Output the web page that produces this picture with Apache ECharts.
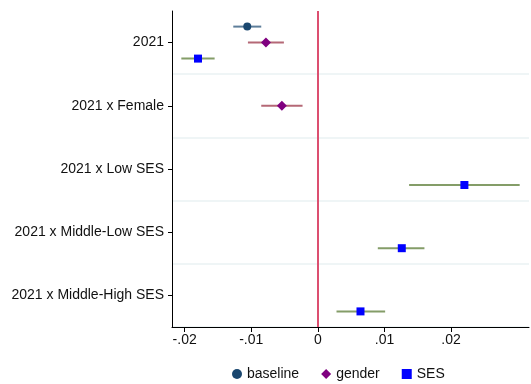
<!DOCTYPE html>
<html>
<head>
<meta charset="utf-8">
<script src="https://cdn.jsdelivr.net/npm/echarts@6/dist/echarts.min.js"></script>
<style>html,body{margin:0;padding:0;background:#fff}#c{width:531px;height:384px}</style>
</head>
<body>
<div id="c"></div>
<script>
const categories = ['2021', '2021 x Female', '2021 x Low SES', '2021 x Middle-Low SES', '2021 x Middle-High SES'];
const xTicks = [-0.02, -0.01, 0, 0.01, 0.02];
// [category index, estimate, ci low, ci high]
const baseline = [[0, -0.0106, -0.0127, -0.0085]];
const gender = [[0, -0.0078, -0.0105, -0.0051], [1, -0.0054, -0.0085, -0.0023]];
const ses = [[0, -0.0180, -0.0205, -0.0155], [2, 0.0220, 0.0137, 0.0303], [3, 0.0126, 0.0090, 0.0160], [4, 0.0064, 0.0028, 0.0101]];

const FONT = 'Liberation Sans, Arial, sans-serif';

function makeRender(offset, shape, lineColor, markerColor) {
  return function (params, api) {
    const cat = api.value(0);
    const p = api.coord([api.value(1), cat]);
    const a = api.coord([api.value(2), cat]);
    const b = api.coord([api.value(3), cat]);
    const y = p[1] + offset;
    let marker;
    if (shape === 'circle') {
      marker = { type: 'circle', shape: { cx: p[0], cy: y, r: 4 }, style: { fill: markerColor } };
    } else if (shape === 'diamond') {
      const r = 5;
      marker = { type: 'polygon', shape: { points: [[p[0], y - r], [p[0] + r, y], [p[0], y + r], [p[0] - r, y]] }, style: { fill: markerColor } };
    } else {
      const s = 8;
      marker = { type: 'rect', shape: { x: p[0] - s / 2, y: y - s / 2, width: s, height: s }, style: { fill: markerColor } };
    }
    return {
      type: 'group',
      children: [
        { type: 'line', shape: { x1: a[0], y1: y, x2: b[0], y2: y }, style: { stroke: lineColor, lineWidth: 2 } },
        marker
      ]
    };
  };
}

const chart = echarts.init(document.getElementById('c'), null, { renderer: 'canvas' });
chart.setOption({
  animation: false,
  backgroundColor: '#fff',
  grid: { left: 172, right: 2, top: 11, bottom: 57 },
  xAxis: {
    type: 'value',
    min: -0.0219,
    max: 0.0317,
    axisLine: { show: true, onZero: false, lineStyle: { color: '#000', width: 1 } },
    axisTick: { show: true, length: 5, customValues: xTicks, lineStyle: { color: '#000' } },
    axisLabel: {
      customValues: xTicks,
      color: '#111', fontSize: 14, fontFamily: FONT, margin: 6,
      formatter: function (v) {
        if (Math.abs(v) < 1e-9) return '0';
        const s = (Math.round(v * 100) / 100).toFixed(2);
        return s.replace('0.', '.');
      }
    },
    splitLine: { show: false }
  },
  yAxis: {
    type: 'category',
    data: categories,
    inverse: true,
    boundaryGap: true,
    axisLine: { show: true, onZero: false, lineStyle: { color: '#000', width: 1 } },
    axisTick: { show: true, alignWithLabel: true, length: 4, lineStyle: { color: '#000' } },
    axisLabel: { color: '#111', fontSize: 14, fontFamily: FONT, margin: 8 },
    splitLine: {
      show: true,
      interval: function (idx) { return idx > 0; },
      lineStyle: { color: '#eaf2f3', width: 1.5 }
    }
  },
  legend: {
    top: 362,
    left: 227,
    itemWidth: 10,
    itemHeight: 10,
    itemGap: 22,
    textStyle: { color: '#111', fontSize: 14, fontFamily: FONT },
    data: [
      { name: 'baseline', icon: 'circle' },
      { name: 'gender', icon: 'diamond' },
      { name: 'SES', icon: 'rect' }
    ]
  },
  series: [
    {
      name: 'baseline', type: 'custom', data: baseline,
      encode: { x: [1, 2, 3], y: 0 },
      itemStyle: { color: '#1a476f' },
      renderItem: makeRender(-16, 'circle', 'rgba(26,71,111,0.7)', '#1a476f'),
      z: 3,
      markLine: {
        silent: true, symbol: ['none', 'none'], label: { show: false },
        lineStyle: { color: '#dc4f70', width: 2, type: 'solid' },
        data: [{ xAxis: 0 }]
      }
    },
    {
      name: 'gender', type: 'custom', data: gender,
      encode: { x: [1, 2, 3], y: 0 },
      itemStyle: { color: '#800080' },
      renderItem: makeRender(0, 'diamond', 'rgba(150,40,60,0.7)', '#800080'),
      z: 3
    },
    {
      name: 'SES', type: 'custom', data: ses,
      encode: { x: [1, 2, 3], y: 0 },
      itemStyle: { color: '#0000ff' },
      renderItem: makeRender(16, 'rect', 'rgba(80,115,40,0.7)', '#0000ff'),
      z: 3
    }
  ]
});
</script>
</body>
</html>
